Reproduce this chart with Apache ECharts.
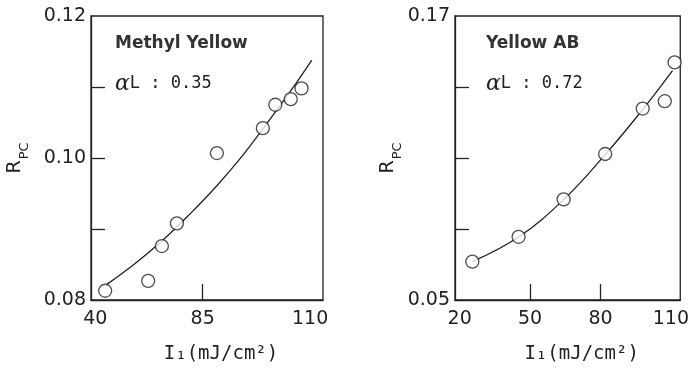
<!DOCTYPE html>
<html>
<head>
<meta charset="utf-8">
<script src="https://cdn.jsdelivr.net/npm/echarts@6/dist/echarts.min.js"></script>
<style>
  html, body { margin: 0; padding: 0; background: #fff; }
  #chart { width: 692px; height: 369px; }
</style>
</head>
<body>
<div id="chart"></div>
<script>
// Methyl Yellow (left panel)
const myPointsX = [62.3, 72.3, 75.5, 79.0, 88.3, 99.0, 101.9, 105.5, 108.0]
const myPointsY = [0.0813, 0.0827, 0.0876, 0.0908, 0.1007, 0.1042, 0.1075, 0.1083, 0.1098]
const myFitX = [62.7, 69.2, 75.5, 82.0, 88.3, 93.7, 99.0, 105.3, 110.4]
const myFitY = [0.0822, 0.0851, 0.0883, 0.0921, 0.0961, 0.0999, 0.1041, 0.1093, 0.1138]
const myXTicks = [85]
const myXLabelValues = [60, 85, 110]
const myXLabels = ['40', '85', '110']
const myYTicks = [0.09, 0.10, 0.11]
const myYLabels = [0.08, 0.10, 0.12]

// Yellow AB (right panel)
const abPointsX = [25.4, 45.1, 64.3, 82.0, 98.0, 107.4, 111.6]
const abPointsY = [0.0662, 0.0767, 0.0925, 0.1117, 0.1309, 0.1340, 0.1504]
const abFitX = [25.4, 45.1, 64.3, 81.9, 98.1, 110.7]
const abFitY = [0.0662, 0.0766, 0.0924, 0.1113, 0.1306, 0.1469]
const abXTicks = [50, 80]
const abXLabels = [20, 50, 80, 110]
const abYTicks = [0.08, 0.11, 0.14]
const abYLabels = [0.05, 0.17]

const ink = '#222'
const numFont = 'DejaVu Sans'
const monoFont = 'DejaVu Sans Mono'

const pairs = (xs, ys) => xs.map((x, i) => [x, ys[i]])

// 坐标轴公共样式
function xAxisOf(gridIndex, min, max, ticks, labelValues, fmt) {
  return {
    type: 'value', gridIndex, min, max,
    splitLine: { show: false },
    axisLine: { lineStyle: { color: ink, width: 1.3 } },
    axisTick: { inside: true, length: 16, customValues: ticks, lineStyle: { color: ink, width: 1.3 } },
    axisLabel: {
      customValues: labelValues, formatter: fmt, margin: 10,
      color: ink, fontFamily: numFont, fontSize: 19
    },
    name: 'I₁(mJ/cm²)', nameLocation: 'middle', nameGap: 45,
    nameTextStyle: { color: ink, fontFamily: monoFont, fontSize: 19, padding: [0, 0, 0, 28] }
  }
}

function yAxisOf(gridIndex, min, max, ticks, labelValues, gap) {
  return {
    type: 'value', gridIndex, min, max,
    splitLine: { show: false },
    axisLine: { lineStyle: { color: ink, width: 1.3 } },
    axisTick: { inside: true, length: 14, customValues: ticks, lineStyle: { color: ink, width: 1.3 } },
    axisLabel: {
      customValues: labelValues, formatter: v => v.toFixed(2), margin: 5,
      color: ink, fontFamily: numFont, fontSize: 19
    },
    name: '{r|R}{s|PC}', nameLocation: 'middle', nameGap: gap, nameRotate: 90,
    nameTextStyle: {
      color: ink,
      rich: {
        r: { fontFamily: numFont, fontSize: 19, lineHeight: 19, verticalAlign: 'top', color: ink },
        s: { fontFamily: numFont, fontSize: 13, lineHeight: 25, verticalAlign: 'bottom', padding: [0, 0, 0, 1], color: ink }
      }
    }
  }
}

function scatterOf(idx, data) {
  return {
    type: 'scatter', xAxisIndex: idx, yAxisIndex: idx, data, z: 3,
    symbol: 'circle', symbolSize: 13,
    itemStyle: { color: '#fff', borderColor: ink, borderWidth: 1.3 }
  }
}

function fitOf(idx, data) {
  return {
    type: 'line', xAxisIndex: idx, yAxisIndex: idx, data, z: 2,
    smooth: 0.4, showSymbol: false,
    lineStyle: { color: ink, width: 1.3 }
  }
}

function panelText(left, title, alpha) {
  return [
    {
      type: 'text', left, top: 35,
      style: { text: title, fill: '#333', font: 'bold 17px "DejaVu Sans"' }
    },
    {
      type: 'text', left, top: 73,
      style: {
        text: '{a|α}{t|L : ' + alpha + '}',
        rich: {
          a: { fontFamily: 'DejaVu Serif', fontStyle: 'italic', fontSize: 22, fill: ink },
          t: { fontFamily: monoFont, fontSize: 17, fill: ink }
        }
      }
    }
  ]
}

const chart = echarts.init(document.getElementById('chart'))

chart.setOption({
  backgroundColor: '#fff',
  animation: false,
  grid: [
    { left: 91, width: 232, top: 16, height: 286, show: true, borderColor: ink, borderWidth: 1.3 },
    { left: 455, width: 230, top: 16, height: 286, show: true, borderColor: ink, borderWidth: 1.3 }
  ],
  xAxis: [
    xAxisOf(0, 59, 113, myXTicks, myXLabelValues, v => {
      let best = 0
      myXLabelValues.forEach((t, i) => { if (Math.abs(t - v) < Math.abs(myXLabelValues[best] - v)) best = i })
      return myXLabels[best]
    }),
    xAxisOf(1, 18, 114, abXTicks, abXLabels, v => String(Math.round(v)))
  ],
  yAxis: [
    yAxisOf(0, 0.08, 0.12, myYTicks, myYLabels, 60),
    yAxisOf(1, 0.05, 0.17, abYTicks, abYLabels, 50)
  ],
  series: [
    fitOf(0, pairs(myFitX, myFitY)),
    scatterOf(0, pairs(myPointsX, myPointsY)),
    fitOf(1, pairs(abFitX, abFitY)),
    scatterOf(1, pairs(abPointsX, abPointsY))
  ],
  graphic: [
    ...panelText(115, 'Methyl Yellow', '0.35'),
    ...panelText(486, 'Yellow AB', '0.72')
  ]
})
</script>
</body>
</html>
